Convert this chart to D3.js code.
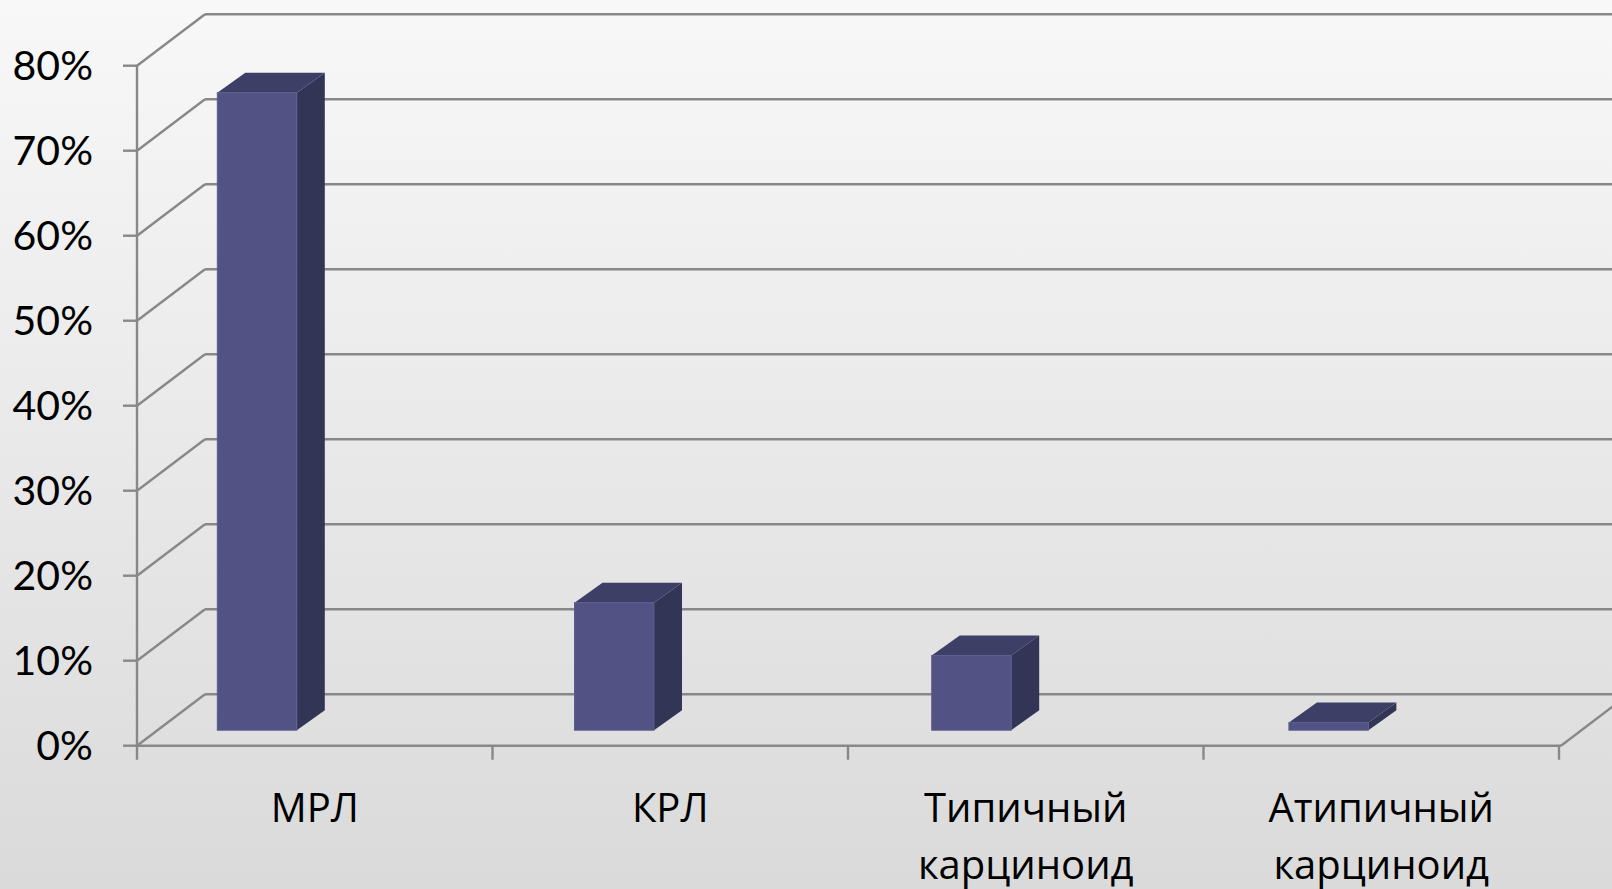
<!DOCTYPE html>
<html>
<head>
<meta charset="utf-8">
<script src="https://cdn.jsdelivr.net/npm/d3@7"></script>
<style>
  html, body { margin: 0; padding: 0; overflow: hidden; }
  svg { display: block; }
</style>
</head>
<body>
<svg id="chart" width="1612" height="889"></svg>
<script>
// Distribution of lung tumour types (share of cases, %)
const categories = ["МРЛ", "КРЛ", "Типичный карциноид", "Атипичный карциноид"];
const values = [75, 15, 8.8, 0.9];
const yTicks = [0, 10, 20, 30, 40, 50, 60, 70, 80];
const yTickLabels = ["0%", "10%", "20%", "30%", "40%", "50%", "60%", "70%", "80%"];

const W = 1612, H = 889;
const svg = d3.select("#chart");

// background gradient
const defs = svg.append("defs");
const bg = defs.append("linearGradient").attr("id", "bg").attr("x1", 0).attr("y1", 0).attr("x2", 0).attr("y2", 1);
bg.append("stop").attr("offset", "0%").attr("stop-color", "#f8f8f8");
bg.append("stop").attr("offset", "100%").attr("stop-color", "#dadada");
svg.append("rect").attr("width", W).attr("height", H).attr("fill", "url(#bg)");

// front plane of the 3D box
const x0 = 137, x1 = 1559;
const y = d3.scaleLinear().domain([0, 80]).range([745.7, 65.7]);
const x = d3.scaleBand().domain(categories).range([x0, x1]);
// depth of the box (oblique projection)
const depth = { dx: 68, dy: -51.5 };

const gridColor = "#888888";
const grid = svg.append("g").attr("stroke", gridColor).attr("stroke-width", 2.4).attr("fill", "none");

// back wall horizontal gridlines
grid.selectAll("line.back").data(yTicks).join("line")
  .attr("class", "back")
  .attr("x1", x0 + depth.dx).attr("x2", x1 + 2 + depth.dx + 10)
  .attr("y1", d => y(d) + depth.dy).attr("y2", d => y(d) + depth.dy);

// left side wall diagonals
grid.selectAll("line.side").data(yTicks).join("line")
  .attr("class", "side")
  .attr("x1", x0).attr("y1", d => y(d))
  .attr("x2", x0 + depth.dx).attr("y2", d => y(d) + depth.dy);

// floor: front edge and right edge
grid.append("line").attr("x1", x0).attr("x2", x1 + 2).attr("y1", y(0)).attr("y2", y(0));
grid.append("line").attr("x1", x1 + 2).attr("y1", y(0))
  .attr("x2", x1 + 2 + depth.dx).attr("y2", y(0) + depth.dy);

// value axis
grid.append("line").attr("x1", x0).attr("x2", x0).attr("y1", y(80)).attr("y2", y(0) + 14);
grid.selectAll("line.ytick").data(yTicks).join("line")
  .attr("class", "ytick")
  .attr("x1", x0 - 14).attr("x2", x0)
  .attr("y1", d => y(d)).attr("y2", d => y(d));

// category axis ticks at band boundaries
grid.selectAll("line.xtick").data(categories.slice(1).concat([null])).join("line")
  .attr("class", "xtick")
  .attr("x1", (d, i) => x0 + x.step() * (i + 1))
  .attr("x2", (d, i) => x0 + x.step() * (i + 1))
  .attr("y1", y(0)).attr("y2", y(0) + 14);

// bars: front face sits slightly inside the box depth
const barFront = { dx: 20.5, dy: -15.5 };
const barDepth = { dx: 28, dy: -20 };
const xBar = d3.scaleBand().domain(categories).range([217.3, 217.3 + 4 * 357.2]);
const barW = 79.5;

const bars = svg.append("g").selectAll("g.bar").data(categories.map((c, i) => ({ c, v: values[i] }))).join("g").attr("class", "bar");

bars.each(function (d) {
  const g = d3.select(this);
  const left = xBar(d.c);
  const right = left + barW;
  const top = y(d.v) + barFront.dy;
  const bottom = y(0) + barFront.dy;
  // side face
  g.append("path")
    .attr("d", `M${right},${top} L${right + barDepth.dx},${top + barDepth.dy} L${right + barDepth.dx},${bottom + barDepth.dy} L${right},${bottom} Z`)
    .attr("fill", "#333557");
  // top face
  g.append("path")
    .attr("d", `M${left},${top} L${left + barDepth.dx},${top + barDepth.dy} L${right + barDepth.dx},${top + barDepth.dy} L${right},${top} Z`)
    .attr("fill", "#3e3f67");
  // front face
  g.append("rect")
    .attr("x", left).attr("y", top).attr("width", barW).attr("height", bottom - top)
    .attr("fill", "#525384").attr("stroke", "#5d5e90").attr("stroke-width", 1);
});

// value axis labels
svg.append("g").selectAll("text").data(yTicks).join("text")
  .attr("x", 93).attr("y", d => y(d))
  .attr("dy", "0.36em")
  .attr("text-anchor", "end")
  .attr("font-family", "Lato, 'DejaVu Sans', sans-serif")
  .attr("font-size", 41)
  .attr("fill", "#000")
  .text((d, i) => yTickLabels[i]);

// category labels, wrapped on spaces
const catLabels = svg.append("g").selectAll("text").data(categories).join("text")
  .attr("x", d => x(d) + x.bandwidth() / 2)
  .attr("y", 822)
  .attr("text-anchor", "middle")
  .attr("font-family", "'Open Sans', 'Noto Sans', sans-serif")
  .attr("font-size", 40)
  .attr("fill", "#000");
catLabels.each(function (d) {
  const t = d3.select(this);
  d.split(" ").forEach((w, i) => {
    t.append("tspan").attr("x", x(d) + x.bandwidth() / 2).attr("dy", i === 0 ? 0 : 56.5).text(w);
  });
});
</script>
</body>
</html>
